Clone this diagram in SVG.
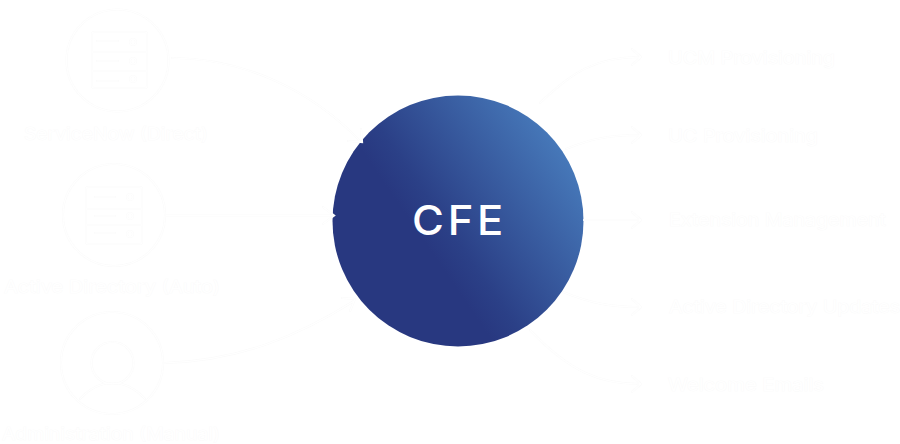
<svg xmlns="http://www.w3.org/2000/svg" width="900" height="444" viewBox="0 0 900 444">
<style>
.l{font-family:"Inter","Liberation Sans",sans-serif;font-size:17px;fill:#fff;stroke:#f9f9f9;stroke-width:.5px;paint-order:stroke}
.f{fill:none;stroke:#fbfbfb;stroke-width:2.2;stroke-linecap:round}
.w{fill:none;stroke:#fff;stroke-width:1.1;stroke-linecap:round}
</style>
<defs>
<linearGradient id="g" gradientUnits="userSpaceOnUse" x1="425" y1="243" x2="578" y2="138"><stop offset="0" stop-color="#283880"/><stop offset=".15" stop-color="#2b4087"/><stop offset="1" stop-color="#4a80c0"/></linearGradient>
<path id="c1" d="M172 58C240 58 310 88 361 142M348 141L362 142L361 129"/>
<path id="c2" d="M165 215.500H333M323 207L334 215.500L323 224"/>
<path id="c3" d="M164 363C240 361 300 335 354 301M342 298L355 299L350 311"/>
<path id="c4" d="M540 103C572 72 596 57 640 57M632 49L641 57L632 65"/>
<path id="c5" d="M566 149C590 139 610 135 640 135M632 127L641 135L632 143"/>
<path id="c6" d="M584 220H640M632 212L641 220L632 228"/>
<path id="c7" d="M563 292C590 303 610 307 640 307M632 299L641 307L632 315"/>
<path id="c8" d="M530 330C570 372 600 384 640 384M632 376L641 384L632 392"/>
<g id="i1"><rect x="92" y="32" width="55" height="56" rx="2"/><path d="M92 52H147M92 71H147M97 41H118M97 61H118M97 81H118"/><circle cx="133" cy="42" r="3"/><circle cx="133" cy="61" r="3"/><circle cx="133" cy="79" r="3"/></g>
<g id="i2"><rect x="86" y="187" width="56" height="57" rx="2"/><path d="M86 209H142M86 225H142M95 197H115M95 216H115M95 233H115"/><circle cx="130" cy="197" r="3"/><circle cx="130" cy="216" r="3"/><circle cx="130" cy="234" r="3"/></g>
<g id="i3"><circle cx="112.500" cy="363" r="21"/><path d="M80 399C90 388 100 383 112.500 383S135 388 145 399"/></g>
</defs>
<rect width="900" height="444" fill="#fff"/>
<g id="cfe">
<circle cx="458" cy="221" r="125.500" fill="url(#g)"/>
<text x="412" y="235" textLength="95" lengthAdjust="spacingAndGlyphs" font-family="Inter,'Liberation Sans',sans-serif" font-size="41" font-weight="500" letter-spacing="3.500" fill="#fff">CFE</text>
</g>
<g id="connectors">
<g class="f"><use href="#c1"/><use href="#c2"/><use href="#c3"/><use href="#c4"/><use href="#c5"/><use href="#c6"/><use href="#c7"/><use href="#c8"/></g>
<g class="w"><use href="#c1"/><use href="#c2"/><use href="#c3"/><use href="#c4"/><use href="#c5"/><use href="#c6"/><use href="#c7"/><use href="#c8"/></g>
</g>
<g id="servicenow">
<circle class="f" cx="117.500" cy="60.500" r="51"/><circle class="w" cx="117.500" cy="60.500" r="51"/>
<use href="#i1" class="f"/><use href="#i1" class="w"/>
<text class="l" x="24" y="140" textLength="184" lengthAdjust="spacingAndGlyphs">ServiceNow (Direct)</text>
</g>
<g id="active-directory">
<circle class="f" cx="114" cy="215" r="51"/><circle class="w" cx="114" cy="215" r="51"/>
<use href="#i2" class="f"/><use href="#i2" class="w"/>
<text class="l" x="4" y="293" textLength="216" lengthAdjust="spacingAndGlyphs">Active Directory (Auto)</text>
</g>
<g id="administration">
<circle class="f" cx="112" cy="363" r="51"/><circle class="w" cx="112" cy="363" r="51"/>
<use href="#i3" class="f"/><use href="#i3" class="w"/>
<text class="l" x="2" y="440" textLength="218" lengthAdjust="spacingAndGlyphs">Administration (Manual)</text>
</g>
<g id="ucm-provisioning"><text class="l" x="668" y="64" textLength="167" lengthAdjust="spacingAndGlyphs">UCM Provisioning</text></g>
<g id="uc-provisioning"><text class="l" x="668" y="142" textLength="150" lengthAdjust="spacingAndGlyphs">UC Provisioning</text></g>
<g id="extension-management"><text class="l" x="669" y="226" textLength="217" lengthAdjust="spacingAndGlyphs">Extension Management</text></g>
<g id="ad-updates"><text class="l" x="669" y="313" textLength="231" lengthAdjust="spacingAndGlyphs">Active Directory Updates</text></g>
<g id="welcome-emails"><text class="l" x="668" y="391" textLength="156" lengthAdjust="spacingAndGlyphs">Welcome Emails</text></g>
</svg>
